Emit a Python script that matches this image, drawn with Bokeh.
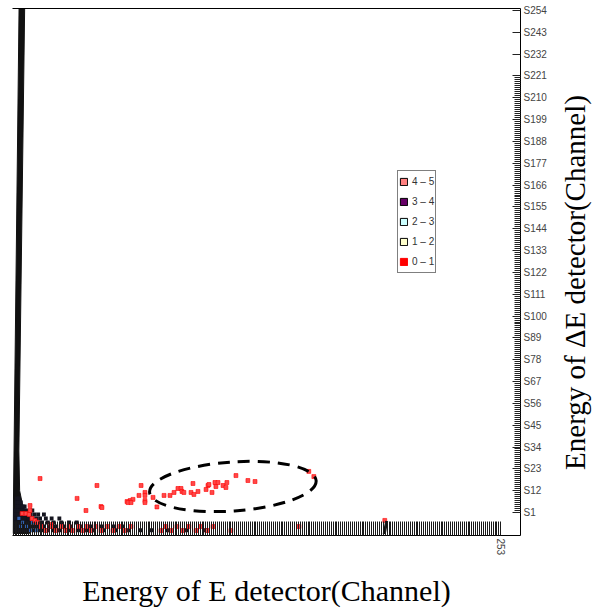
import math
from bokeh.plotting import figure
from bokeh.layouts import row
from bokeh.core.properties import value
from bokeh.models import FixedTicker, Legend, LegendItem, LinearAxis, Range1d
from bokeh.embed import file_html
from bokeh.resources import INLINE

# ---------------- data (channels) ----------------
s_ticks = [1, 12, 23, 34, 45, 56, 67, 78, 89, 100, 111, 122, 133, 144, 155,
           166, 177, 188, 199, 210, 221, 232, 243, 254]
s_labels = ["S1", "S12", "S23", "S34", "S45", "S56", "S67", "S78", "S89", "S100",
            "S111", "S122", "S133", "S144", "S155", "S166", "S177", "S188", "S199",
            "S210", "S221", "S232", "S243", "S254"]
e_channels = list(range(0, 254))
e_last_label = "253"

# cells with counts 0-1 (red)
red_x = [14.0, 43.5, 66.4, 33.2, 45.6, 37.8, 8.8, 8.8, 60.7, 59.1, 62.2, 59.6,
         61.2, 65.3, 68.4, 68.4, 68.4, 68.4, 72.6, 74.6, 78.3, 81.4, 83.5, 85.5,
         87.1, 87.6, 88.6, 92.3, 93.3, 93.8, 95.9, 100.1, 101.1, 101.6, 103.2,
         104.7, 106.3, 105.2, 108.9, 110.9, 110.4, 115.6, 121.8, 125.5, 153.4,
         156.0, 46.1, 19.7, 192.8, 4.7, 6.7, 8.3, 9.8, 11.4, 12.5,
         14.5, 17.1, 19.7, 22.3, 24.9, 27.0, 29.0, 31.1, 34.2, 36.3, 38.4, 40.4,
         43.0, 45.6, 48.7, 51.8, 54.9, 58.1, 61.2, 76.7, 79.3, 81.9, 85.0, 88.1,
         91.2, 94.9, 97.5, 100.6, 103.7, 113.0, 148.3]
red_y = [18.1, 14.6, 14.6, 8.1, 4.0, 2.0, 4.5, 2.0, 7.0, 6.5, 7.6, 6.0,
         6.0, 9.6, 11.1, 9.6, 7.0, 6.0, 8.6, 3.8, 9.6, 9.6, 11.1, 13.1,
         13.1, 11.6, 11.1, 11.1, 15.6, 10.1, 11.6, 12.6, 14.6, 15.1, 11.1,
         16.1, 16.1, 14.1, 14.6, 16.1, 13.6, 19.6, 17.1, 16.6, 21.7,
         19.1, 3.5, -5.0, -3.0, 0.5, 0.5, 0.0, -2.0, -3.0, -4.0,
         -6.1, -8.1, -6.1, -8.1, -6.1, -8.1, -6.1, -8.1, -6.1, -8.1, -6.1, -8.1,
         -6.1, -8.1, -6.1, -8.1, -6.1, -8.1, -6.1, -8.1, -6.1, -8.1, -6.1, -8.1,
         -6.1, -8.1, -6.1, -8.1, -6.1, -8.1, -6.1]

# dark (wire-frame) cells near the origin
dark_x = [2, 3,
          2, 3, 4,
          2, 3, 4, 5, 6,
          1, 2, 3, 4, 5, 6, 7, 10,
          1, 2, 3, 4, 5, 7, 9, 11, 13, 16,
          1, 2, 3, 4, 5, 6, 8, 10, 12, 14, 17, 20, 24,
          1, 2, 3, 4, 5, 6, 7, 9, 11, 13, 15, 18, 21, 25, 29, 33,
          1, 2, 3, 4, 5, 6, 7, 8, 10, 12, 14, 16, 19, 22, 26, 30, 35, 40, 46, 52, 57,
          1, 2, 3, 4, 5, 6, 7, 8, 9, 11, 13, 15, 18, 21, 24, 27, 30, 34, 38, 42, 47,
          53, 60, 66, 72, 80, 90, 100]
dark_y = [8, 8,
          6, 6, 6,
          4, 4, 4, 4, 4,
          2, 2, 2, 2, 2, 2, 2, 2,
          0, 0, 0, 0, 0, 0, 0, 0, 0, 0,
          -2, -2, -2, -2, -2, -2, -2, -2, -2, -2, -2, -2, -2,
          -4, -4, -4, -4, -4, -4, -4, -4, -4, -4, -4, -4, -4, -4, -4, -4,
          -6, -6, -6, -6, -6, -6, -6, -6, -6, -6, -6, -6, -6, -6, -6, -6, -6, -6, -6, -6, -6,
          -8, -8, -8, -8, -8, -8, -8, -8, -8, -8, -8, -8, -8, -8, -8, -8, -8, -8, -8, -8, -8,
          -8, -8, -8, -8, -8, -8, -8]

blue_x = [3, 5, 4, 7, 9, 12, 6, 10]
blue_y = [-2, -4, -6, -6, -8, -8, 0, -4]

# high-count wall along the first E channels
wall_x = [3.1, 6.0, 3.0, 3.4, 5.0, 8.5, 8.5, 0.0, 0.5]
wall_y = [255, 255, 32, 12, 4.5, -3, -9.6, -9.6, 32]

# spike near E channel 193
spike_x0 = [192.5]
spike_y0 = [-9.8]
spike_x1 = [193.8]
spike_y1 = [-3.3]

# marked region
ell_x = [114.0]
ell_y = [14.1]
ell_w = [86.6]
ell_h = [24.7]
ell_angle = [0.07]

legend_labels = ["4 – 5", "3 – 4", "2 – 3", "1 – 2", "0 – 1"]
legend_colors = ["#ff8080", "#660066", "#ccffff", "#ffffcc", "#ff0000"]
legend_edges = ["#000000", "#000000", "#000000", "#000000", "#ff0000"]

x_title = "Energy of E detector(Channel)"
y_title = "Energy of ΔE detector(Channel)"

# ---------------- main figure ----------------
p = figure(width=552, height=613, x_range=Range1d(-0.3, 263.2), y_range=Range1d(-10.6, 255),
           output_backend="svg", toolbar_location=None,
           x_axis_location="below", y_axis_location="right",
           min_border_left=12, min_border_right=32, min_border_top=8, min_border_bottom=78)
p.xgrid.visible = False
p.ygrid.visible = False
p.outline_line_color = None
p.background_fill_color = "white"
p.border_fill_color = "white"

# bottom axis: one tick per channel
xa = p.below[0]
xa.ticker = FixedTicker(ticks=e_channels)
xa.major_tick_in = 14
xa.major_tick_out = 0
xa.major_tick_line_color = "#1a1a1a"
xa.minor_tick_line_color = None
overrides = {c: "" for c in e_channels}
overrides[e_channels[-1]] = e_last_label
xa.major_label_overrides = overrides
xa.major_label_orientation = "vertical"
xa.major_label_text_font_size = "10px"
xa.major_label_text_color = "#444444"
xa.major_label_standoff = 3
xa.axis_line_color = "black"
xa.axis_label = x_title
xa.axis_label_text_font = "Liberation Serif"
xa.axis_label_text_font_size = "30px"
xa.axis_label_text_font_style = "normal"
xa.axis_label_text_color = "black"
xa.axis_label_standoff = 16

# top edge
top_axis = LinearAxis(ticker=FixedTicker(ticks=[]), major_tick_in=0, major_tick_out=0,
                      minor_tick_in=0, minor_tick_out=0, major_label_text_font_size="0px",
                      major_label_standoff=0, axis_line_color="black")
p.add_layout(top_axis, "above")

# right axis
ya = p.right[0]
ya.ticker = FixedTicker(ticks=s_ticks, minor_ticks=list(range(1, 221)))
ya.major_label_overrides = dict(zip(s_ticks, s_labels))
ya.major_tick_in = 8
ya.major_tick_out = 0
ya.minor_tick_in = 6
ya.minor_tick_out = 0
ya.minor_tick_line_color = "#222222"
ya.major_tick_line_color = "#222222"
ya.major_label_text_font_size = "10px"
ya.major_label_text_color = "#444444"
ya.major_label_standoff = 3
ya.axis_line_color = "black"

# data
p.patch(wall_x, wall_y, fill_color="#111111", line_color="#111111")
p.rect(dark_x, dark_y, width=2.0, height=2.0, fill_color="#15151f", line_color=None)
p.rect(blue_x, blue_y, width=1.6, height=1.6, fill_color="#3060b0", line_color=None)
p.rect(red_x, red_y, width=2.0, height=2.0, fill_color="#ff4848", line_color="#ff0000",
       line_width=0.6)
p.segment(spike_x0, spike_y0, spike_x1, spike_y1, line_color="#111111", line_width=3)
p.ellipse(ell_x, ell_y, width=ell_w, height=ell_h, angle=ell_angle, fill_color=None,
          line_color="black", line_width=3, line_dash="12 8")

# legend (swatch renderers hold a single NaN cell so nothing is drawn in the plot)
items = []
for lab, col, edge in zip(legend_labels, legend_colors, legend_edges):
    r = p.rect([float("nan")], [float("nan")], width=1, height=1, fill_color=col,
               line_color=edge, line_width=1)
    items.append(LegendItem(label=lab, renderers=[r]))
legend = Legend(items=items, location=(385, 262), glyph_width=9, glyph_height=9,
                label_height=19, spacing=1, padding=1, margin=0, label_standoff=4,
                label_text_font_size="10px", label_text_color="#333333",
                border_line_color="black", border_line_width=1,
                background_fill_color="white", background_fill_alpha=1)
p.add_layout(legend)

# ---------------- narrow panel holding the right-hand title ----------------
t = figure(width=40, height=613, x_range=Range1d(0, 1), y_range=Range1d(0, 1),
           output_backend="svg", toolbar_location=None,
           x_axis_location=None, y_axis_location=None, min_border=0)
t.xgrid.visible = False
t.ygrid.visible = False
t.outline_line_color = None
t.background_fill_color = "white"
t.border_fill_color = "white"
t.text(x=[0.55], y=[0.48], text=[y_title], angle=math.pi / 2, text_align="center",
       text_baseline="middle", text_font=value("Liberation Serif"), text_font_size="29px",
       text_color="black")

layout = row(p, t, spacing=0)
open("out.html", "w").write(file_html(layout, INLINE))
